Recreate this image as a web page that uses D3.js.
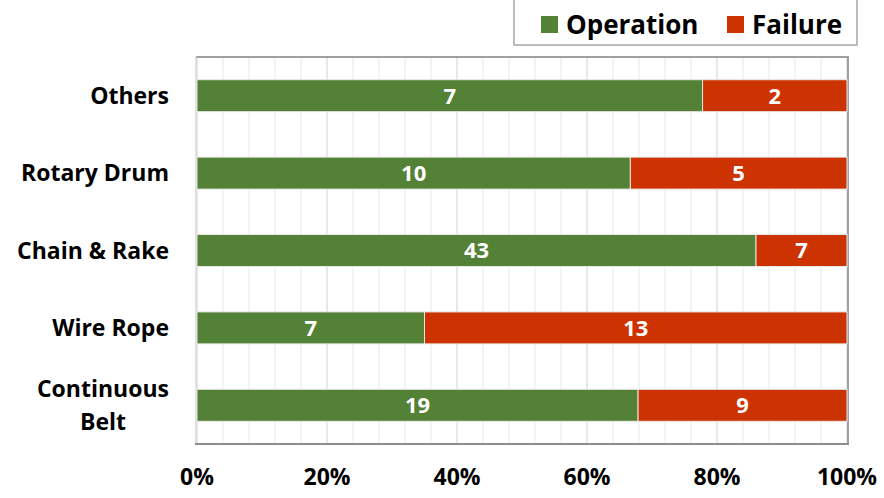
<!DOCTYPE html>
<html><head><meta charset="utf-8">
<script src="https://cdn.jsdelivr.net/npm/d3@7"></script>
<style>body{margin:0;background:#fff;} svg{display:block;}</style>
</head><body>
<svg id="chart" width="884" height="498"></svg>
<script>
const categories = ["Others", "Rotary Drum", "Chain & Rake", "Wire Rope", "Continuous Belt"];
const categoryLines = [["Others"], ["Rotary Drum"], ["Chain & Rake"], ["Wire Rope"], ["Continuous", "Belt"]];
const operation = [7, 10, 43, 7, 19];
const failure = [2, 5, 7, 13, 9];
const seriesNames = ["Operation", "Failure"];
const colors = ["#538135", "#cc3300"];
const tickValues = [0, 0.2, 0.4, 0.6, 0.8, 1.0];

const svg = d3.select("#chart");
const font = "'Open Sans', sans-serif";
const fs = 23;
const x = d3.scaleLinear().domain([0, 1]).range([197, 847]);
const y = d3.scaleBand().domain(categories).range([57, 444]).paddingInner(0.587).paddingOuter(0.2935);

// gridlines
const minor = d3.range(0, 1.0001, 0.04);
svg.append("g").selectAll("line").data(minor).join("line")
  .attr("x1", d => x(d)).attr("x2", d => x(d))
  .attr("y1", 57).attr("y2", 444)
  .attr("stroke", (d, i) => i % 5 === 0 ? "#d9d9d9" : "#ececec").attr("stroke-width", 1.2);

// frame
svg.append("line").attr("x1", 196).attr("x2", 849).attr("y1", 57).attr("y2", 57).attr("stroke", "#a0a0a0").attr("stroke-width", 2);
svg.append("line").attr("x1", 848).attr("x2", 848).attr("y1", 57).attr("y2", 445).attr("stroke", "#a0a0a0").attr("stroke-width", 2);
svg.append("line").attr("x1", 196).attr("x2", 196).attr("y1", 57).attr("y2", 445).attr("stroke", "#d9d9d9").attr("stroke-width", 1.5);
svg.append("line").attr("x1", 195).attr("x2", 849).attr("y1", 444).attr("y2", 444).attr("stroke", "#8c8c8c").attr("stroke-width", 2);

// stacked data
const rows = categories.map((c, i) => {
  const tot = operation[i] + failure[i];
  return {cat: c, segs: [
    {v: operation[i], s: 0, e: operation[i] / tot, k: 0},
    {v: failure[i], s: operation[i] / tot, e: 1, k: 1}
  ]};
});
const g = svg.append("g");
rows.forEach(r => {
  r.segs.forEach(sg => {
    g.append("rect")
      .attr("x", x(sg.s)).attr("width", x(sg.e) - x(sg.s))
      .attr("y", y(r.cat)).attr("height", y.bandwidth())
      .attr("fill", colors[sg.k]).attr("stroke", "#e8e8e8").attr("stroke-width", 1);
    g.append("text")
      .attr("x", (x(sg.s) + x(sg.e)) / 2).attr("y", y(r.cat) + y.bandwidth() / 2)
      .attr("dy", "0.36em").attr("text-anchor", "middle")
      .attr("fill", "#fff").attr("font-family", font).attr("font-weight", "bold").attr("font-size", 22)
      .text(sg.v);
  });
});

// category labels
categories.forEach((c, i) => {
  const lines = categoryLines[i];
  const cy = y(c) + y.bandwidth() / 2;
  const t = svg.append("text").attr("font-family", font).attr("font-weight", "bold").attr("font-size", fs)
    .attr("fill", "#000");
  if (lines.length === 1) {
    t.attr("x", 169).attr("y", cy).attr("dy", "0.36em").attr("text-anchor", "end").text(lines[0]);
  } else {
    t.attr("x", 169).attr("y", cy - 17).attr("dy", "0.36em").attr("text-anchor", "end").text(lines[0]);
    const w = t.node().getComputedTextLength();
    svg.append("text").attr("font-family", font).attr("font-weight", "bold").attr("font-size", fs)
      .attr("x", 169 - w / 2).attr("y", cy + 16).attr("dy", "0.36em").attr("text-anchor", "middle").text(lines[1]);
  }
});

// x axis tick labels
svg.append("g").selectAll("text").data(tickValues).join("text")
  .attr("x", d => x(d)).attr("y", 477).attr("dy", "0.36em").attr("text-anchor", "middle")
  .attr("font-family", font).attr("font-weight", "bold").attr("font-size", fs).attr("fill", "#000")
  .text(d => d3.format(".0%")(d));

// legend
svg.append("rect").attr("x", 514).attr("y", -2).attr("width", 343).attr("height", 47)
  .attr("fill", "#fff").attr("stroke", "#a6a6a6").attr("stroke-width", 1.5);
const legX = [541, 727];
seriesNames.forEach((n, i) => {
  svg.append("rect").attr("x", legX[i]).attr("y", 16).attr("width", 17).attr("height", 17).attr("fill", colors[i]);
  svg.append("text").attr("x", legX[i] + 25).attr("y", 24.5).attr("dy", "0.36em")
    .attr("font-family", font).attr("font-weight", "bold").attr("font-size", 26).attr("fill", "#000").text(n);
});
</script>
</body></html>
